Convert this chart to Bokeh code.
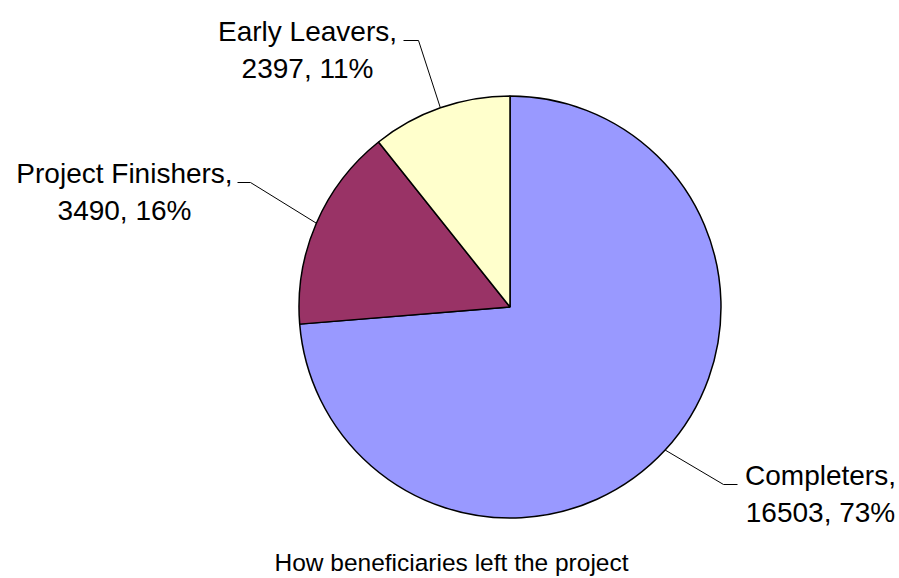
import math
from bokeh.plotting import figure
from bokeh.models import Range1d, ColumnDataSource
from bokeh.core.properties import value
from bokeh.embed import file_html
from bokeh.resources import INLINE

# ---- data ----
categories = ["Completers", "Project Finishers", "Early Leavers"]
counts = [16503, 3490, 2397]
pct_labels = [73, 16, 11]
colors = ["#9999FF", "#993366", "#FFFFCC"]
title_text = "How beneficiaries left the project"

# ---- layout (picture pixel coordinates; y measured downward) ----
W, H = 899, 578
cx_pg, cy_pg, R = 509.5, 306.5, 211.0
label_layout = [
    dict(tx=820, ty=484, elbow_x=723, end_x=737),
    dict(tx=124, ty=182, elbow_x=250, end_x=237),
    dict(tx=307, ty=40, elbow_x=418, end_x=403),
]


def Y(y_pg):
    return H - y_pg


p = figure(width=W, height=H, output_backend="svg", toolbar_location=None,
           x_range=Range1d(0, W), y_range=Range1d(0, H),
           min_border=0)
p.axis.visible = False
p.grid.visible = False
p.outline_line_color = None
p.background_fill_color = "white"
p.border_fill_color = "white"

total = sum(counts)
starts, ends, mids = [], [], []
a = math.pi / 2
for c in counts:
    sweep = c / total * 2 * math.pi
    a_end = a - sweep
    starts.append(a_end)
    ends.append(a)
    mids.append((a + a_end) / 2)
    a = a_end

src = ColumnDataSource(dict(x=[cx_pg] * len(counts), y=[Y(cy_pg)] * len(counts),
                            start=starts, end=ends, color=colors))
p.wedge(x="x", y="y", radius=R, start_angle="start", end_angle="end",
        direction="anticlock", fill_color="color", line_color="black",
        line_width=1.5, source=src)

font = value("Liberation Sans")
for i, cat in enumerate(categories):
    lay = label_layout[i]
    m = mids[i]
    sx = cx_pg + R * math.cos(m)
    sy = Y(cy_pg) + R * math.sin(m)
    ty = Y(lay["ty"])
    p.line([sx, lay["elbow_x"], lay["end_x"]], [sy, ty, ty],
           line_color="black", line_width=1)
    lines = [f"{cat},", f"{counts[i]}, {pct_labels[i]}%"]
    p.text(x=[lay["tx"]], y=[ty + 9.5], text=[lines[0]], text_font=font,
           text_font_size="28px", text_align="center",
           text_baseline="alphabetic", text_color="black")
    p.text(x=[lay["tx"]], y=[ty - 27.5], text=[lines[1]], text_font=font,
           text_font_size="28px", text_align="center",
           text_baseline="alphabetic", text_color="black")

p.text(x=[451], y=[Y(562)], text=[title_text], text_font=font,
       text_font_size="24.5px", text_align="center", text_baseline="alphabetic",
       text_color="black")

open("out.html", "w").write(file_html(p, INLINE))
